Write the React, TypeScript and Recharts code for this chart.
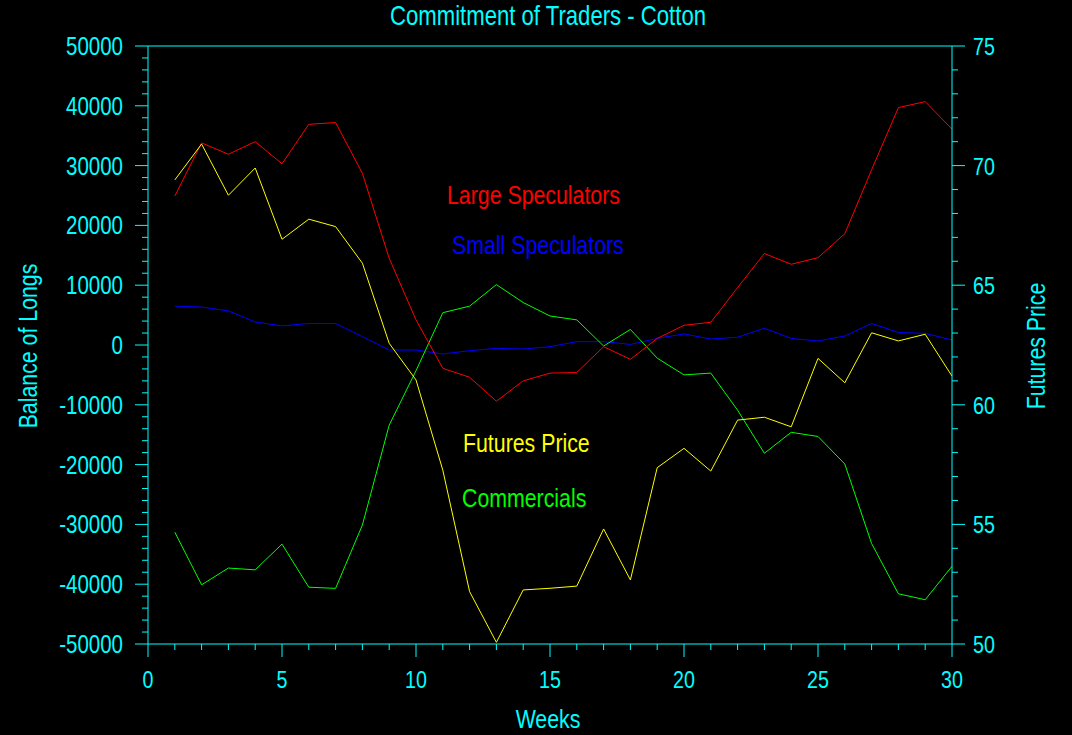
import React from "react";
import {
  LineChart,
  Line,
  XAxis,
  YAxis,
  ReferenceLine,
} from "recharts";

const weeks = [
  1, 2, 3, 4, 5, 6, 7, 8, 9, 10, 11, 12, 13, 14, 15,
  16, 17, 18, 19, 20, 21, 22, 23, 24, 25, 26, 27, 28, 29, 30,
];

const largeSpeculators = [
  24900, 33800, 31900, 34000, 30300, 36900, 37200, 28700, 14500, 4200,
  -3900, -5400, -9400, -6000, -4700, -4600, -280, -2400, 1100, 3300,
  3800, 9600, 15300, 13500, 14600, 18600, 29300, 39700, 40700, 36100,
];

const smallSpeculators = [
  6500, 6350, 5700, 3850, 3200, 3600, 3600, 1400, -840, -840,
  -1500, -950, -560, -670, -280, 560, 560, 100, 1100, 1850,
  1000, 1300, 2800, 1100, 670, 1500, 3600, 2100, 1950, 840,
];

const commercials = [
  -31300, -40100, -37300, -37600, -33300, -40500, -40700, -30100, -13400, -4300,
  5400, 6500, 10100, 7100, 4850, 4200, -170, 2600, -2200, -5000,
  -4700, -10900, -18100, -14600, -15300, -19900, -33200, -41600, -42600, -37000,
];

const futuresPrice = [
  69.4, 70.9, 68.76, 69.9, 66.92, 67.76, 67.45, 65.92, 62.57, 61.04,
  57.27, 52.19, 50.07, 52.26, 52.33, 52.42, 54.81, 52.68, 57.37, 58.18,
  57.23, 59.36, 59.48, 59.08, 61.94, 60.92, 63.01, 62.67, 62.95, 61.2,
];

const xTicks = Array.from({ length: 31 }, (_, i) => i);
const leftTicks = Array.from({ length: 51 }, (_, i) => -50000 + i * 2000);
const rightTicks = Array.from({ length: 26 }, (_, i) => 50 + i);

const CYAN = "#00ffff";
const FONT = "'Liberation Sans', Arial, sans-serif";

const data = weeks.map((w, i) => ({
  week: w,
  large: largeSpeculators[i],
  small: smallSpeculators[i],
  comm: commercials[i],
  price: futuresPrice[i],
}));

// no narrow font installed, so squeeze Liberation Sans horizontally
function NarrowText({
  x,
  y,
  size,
  fill,
  anchor = "start",
  rotate = 0,
  children,
}: {
  x: number;
  y: number;
  size: number;
  fill: string;
  anchor?: "start" | "middle" | "end";
  rotate?: number;
  children: React.ReactNode;
}) {
  return (
    <text
      x={0}
      y={0}
      transform={`translate(${x} ${y}) rotate(${rotate}) scale(0.82 1)`}
      textAnchor={anchor}
      fill={fill}
      fontSize={size}
      fontFamily={FONT}
    >
      {children}
    </text>
  );
}

// custom ticks: long tick + label on majors, short tick otherwise
function BottomTick({ x, y, payload }: any) {
  const major = payload.value % 5 === 0;
  return (
    <g>
      <line x1={x} x2={x} y1={y} y2={y + (major ? 13 : 6)} stroke={CYAN} />
      {major && (
        <NarrowText x={x} y={y + 44} anchor="middle" fill={CYAN} size={24}>
          {payload.value}
        </NarrowText>
      )}
    </g>
  );
}

function LeftTick({ x, y, payload }: any) {
  const major = payload.value % 10000 === 0;
  return (
    <g>
      <line x1={x} x2={x - (major ? 13 : 6)} y1={y} y2={y} stroke={CYAN} />
      {major && (
        <NarrowText x={x - 25} y={y + 9} anchor="end" fill={CYAN} size={25}>
          {payload.value}
        </NarrowText>
      )}
    </g>
  );
}

function RightTick({ x, y, payload }: any) {
  const major = payload.value % 5 === 0;
  return (
    <g>
      <line x1={x} x2={x + (major ? 13 : 6)} y1={y} y2={y} stroke={CYAN} />
      {major && (
        <NarrowText x={x + 21} y={y + 9} fill={CYAN} size={24}>
          {payload.value}
        </NarrowText>
      )}
    </g>
  );
}

export default function App() {
  return (
    <div style={{ position: "absolute", left: 0, top: 0, width: 1072, height: 735, background: "#000" }}>
      <LineChart
        width={1072}
        height={735}
        data={data}
        margin={{ top: 46, right: 0, bottom: 0, left: 0 }}
      >
        <XAxis
          dataKey="week"
          type="number"
          domain={[0, 30]}
          ticks={xTicks}
          interval={0}
          height={91}
          tickSize={0}
          tickMargin={0}
          tickLine={false}
          axisLine={{ stroke: CYAN }}
          tick={BottomTick}
        />
        <YAxis
          yAxisId="left"
          orientation="left"
          type="number"
          domain={[-50000, 50000]}
          ticks={leftTicks}
          interval={0}
          width={148}
          tickSize={0}
          tickMargin={0}
          tickLine={false}
          axisLine={{ stroke: CYAN }}
          tick={LeftTick}
        />
        <YAxis
          yAxisId="right"
          orientation="right"
          type="number"
          domain={[50, 75]}
          ticks={rightTicks}
          interval={0}
          width={120}
          tickSize={0}
          tickMargin={0}
          tickLine={false}
          axisLine={{ stroke: CYAN }}
          tick={RightTick}
        />
        <ReferenceLine yAxisId="left" y={50000} stroke={CYAN} />
        <Line yAxisId="left" dataKey="small" stroke="#0000ff" strokeWidth={1} dot={false} isAnimationActive={false} />
        <Line yAxisId="left" dataKey="comm" stroke="#00ff00" strokeWidth={1} dot={false} isAnimationActive={false} />
        <Line yAxisId="left" dataKey="large" stroke="#ff0000" strokeWidth={1} dot={false} isAnimationActive={false} />
        <Line yAxisId="right" dataKey="price" stroke="#ffff00" strokeWidth={1} dot={false} isAnimationActive={false} />
      </LineChart>
      <svg
        width={1072}
        height={735}
        style={{ position: "absolute", left: 0, top: 0, pointerEvents: "none" }}
      >
        <NarrowText x={548} y={25} anchor="middle" fill={CYAN} size={27}>
          Commitment of Traders - Cotton
        </NarrowText>
        <NarrowText x={548} y={728} anchor="middle" fill={CYAN} size={26}>
          Weeks
        </NarrowText>
        <NarrowText x={37} y={346} anchor="middle" fill={CYAN} size={26} rotate={-90}>
          Balance of Longs
        </NarrowText>
        <NarrowText x={1045} y={346} anchor="middle" fill={CYAN} size={26} rotate={-90}>
          Futures Price
        </NarrowText>
        <NarrowText x={447} y={204} fill="#ff0000" size={26}>Large Speculators</NarrowText>
        <NarrowText x={452} y={254} fill="#0000ff" size={26}>Small Speculators</NarrowText>
        <NarrowText x={463} y={452} fill="#ffff00" size={26}>Futures Price</NarrowText>
        <NarrowText x={462} y={507} fill="#00ff00" size={26}>Commercials</NarrowText>
      </svg>
    </div>
  );
}
